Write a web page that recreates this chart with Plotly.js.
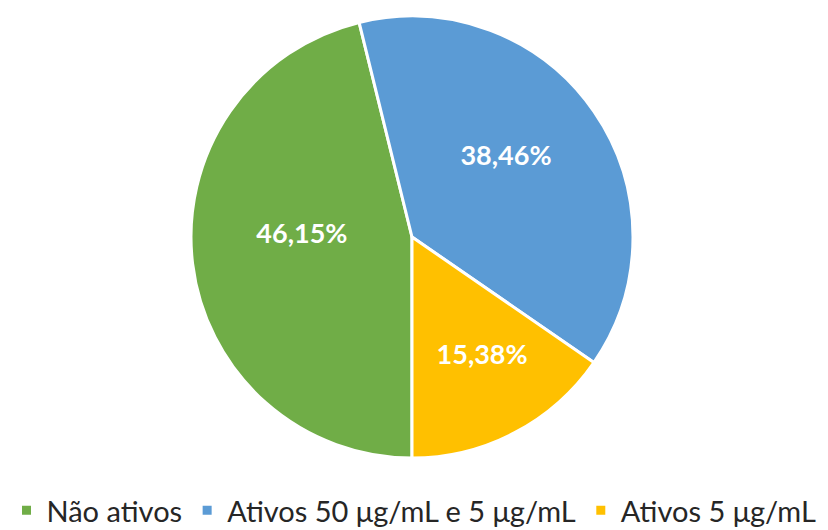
<!DOCTYPE html>
<html>
<head>
<meta charset="utf-8">
<script src="https://cdn.plot.ly/plotly-3.0.1.min.js"></script>
<style>html,body{margin:0;padding:0;background:#fff;}#chart{width:828px;height:530px;}</style>
</head>
<body>
<div id="chart"></div>
<script>
const labels = ["Não ativos", "Ativos 50 μg/mL e 5 μg/mL", "Ativos 5 μg/mL"];
const values = [6, 5, 2];
const colors = ["#70AD47", "#5B9BD5", "#FFC000"];

const data = [{
  type: "pie",
  labels: labels,
  values: values,
  sort: false,
  direction: "clockwise",
  rotation: 180,
  marker: {colors: colors, line: {color: "#ffffff", width: 3}},
  texttemplate: "%{percent:.2%}<br> ",
  textposition: "inside",
  insidetextorientation: "horizontal",
  textfont: {family: "Lato, 'Open Sans', sans-serif", size: 27, color: "#ffffff", weight: "bold"},
  domain: {x: [190/828, 634/828], y: [0, 1]},
  hoverinfo: "label+percent"
}];

const layout = {
  width: 828, height: 530,
  margin: {l: 0, r: 0, t: 16, b: 72},
  separators: ",.",
  paper_bgcolor: "#ffffff",
  showlegend: true,
  legend: {
    orientation: "h",
    xref: "container", yref: "container",
    x: 0.5, xanchor: "center",
    y: 0.085, yanchor: "top",
    font: {family: "Lato, 'Open Sans', sans-serif", size: 29, color: "#262626"},
    itemwidth: 30
  }
};

Plotly.newPlot("chart", data, layout, {displayModeBar: false, staticPlot: true});
</script>
</body>
</html>
